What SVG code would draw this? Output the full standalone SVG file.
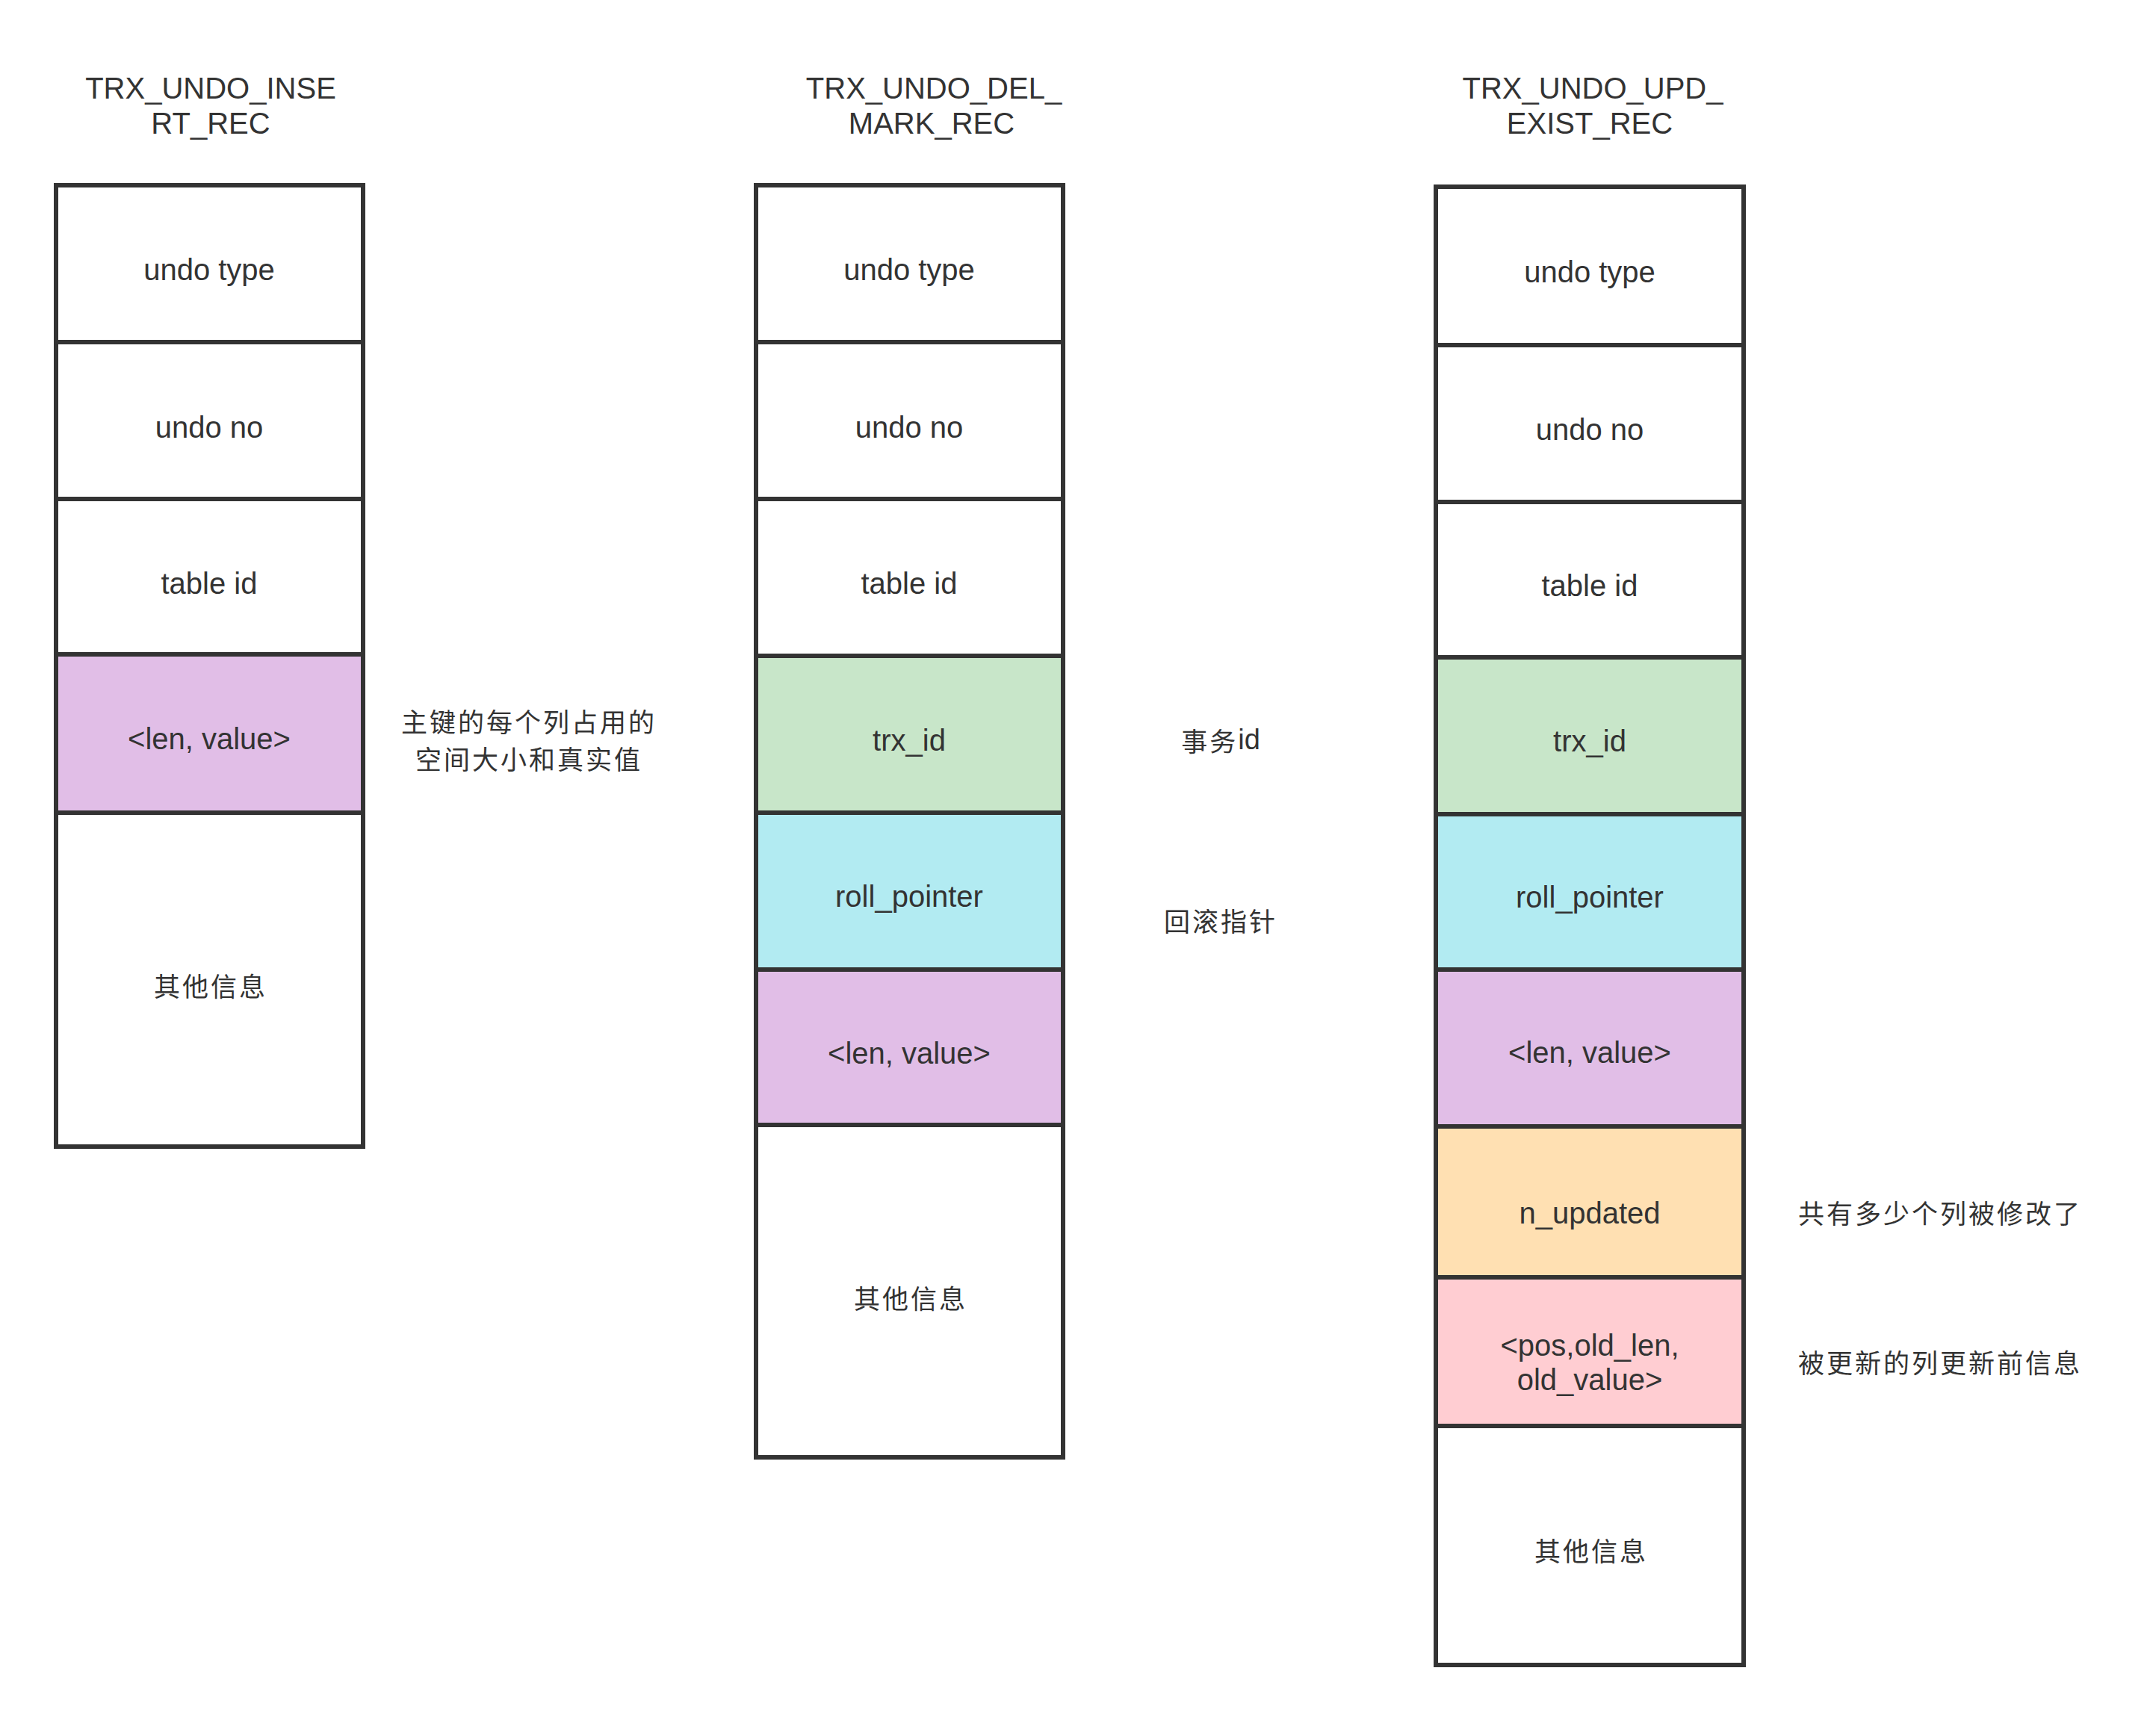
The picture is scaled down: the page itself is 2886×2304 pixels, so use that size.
<svg xmlns="http://www.w3.org/2000/svg" width="2886" height="2304" viewBox="0 0 2886 2304">
<style>
.c{stroke:#333;stroke-width:6;}
.w{fill:#ffffff;}
.lil{fill:#e1bee7;}
.grn{fill:#c8e6c9;}
.cyn{fill:#b2ebf2;}
.org{fill:#ffe0b2;}
.pnk{fill:#ffcdd2;}
.t{font-family:"Liberation Sans","Noto Sans",sans-serif;font-size:40px;fill:#333;text-anchor:middle;dominant-baseline:central;}
.h{font-family:"Liberation Sans","Noto Sans",sans-serif;font-size:40px;fill:#333;text-anchor:middle;}
.z{font-family:"Noto Sans CJK SC",sans-serif;font-size:35px;fill:#333;text-anchor:middle;dominant-baseline:central;letter-spacing:3px;}
.l{font-family:"Liberation Sans",sans-serif;letter-spacing:0;font-size:38px;}
</style>
<rect width="2886" height="2304" fill="#ffffff"/>

<g id="title1"><text class="h" x="282" y="132">TRX_UNDO_INSE</text><text class="h" x="282" y="179">RT_REC</text></g>
<g id="title2"><text class="h" x="1250" y="132">TRX_UNDO_DEL_</text><text class="h" x="1247" y="179">MARK_REC</text></g>
<g id="title3"><text class="h" x="2132" y="132">TRX_UNDO_UPD_</text><text class="h" x="2128" y="179">EXIST_REC</text></g>

<g id="col1">
<g id="c1-undo-type"><rect class="c w" x="75" y="248" width="411" height="210"/><text class="t" x="280" y="361">undo type</text></g>
<g id="c1-undo-no"><rect class="c w" x="75" y="458" width="411" height="210"/><text class="t" x="280" y="572">undo no</text></g>
<g id="c1-table-id"><rect class="c w" x="75" y="668" width="411" height="208"/><text class="t" x="280" y="781">table id</text></g>
<g id="c1-len-value"><rect class="c lil" x="75" y="876" width="411" height="212"/><text class="t" x="280" y="989">&lt;len, value&gt;</text></g>
<g id="c1-other"><rect class="c w" x="75" y="1088" width="411" height="447"/><text class="z" x="282" y="1318">其他信息</text></g>
</g>

<g id="col2">
<g id="c2-undo-type"><rect class="c w" x="1012" y="248" width="411" height="210"/><text class="t" x="1217" y="361">undo type</text></g>
<g id="c2-undo-no"><rect class="c w" x="1012" y="458" width="411" height="210"/><text class="t" x="1217" y="572">undo no</text></g>
<g id="c2-table-id"><rect class="c w" x="1012" y="668" width="411" height="210"/><text class="t" x="1217" y="781">table id</text></g>
<g id="c2-trx-id"><rect class="c grn" x="1012" y="878" width="411" height="210"/><text class="t" x="1217" y="991">trx_id</text></g>
<g id="c2-roll-pointer"><rect class="c cyn" x="1012" y="1088" width="411" height="210"/><text class="t" x="1217" y="1200">roll_pointer</text></g>
<g id="c2-len-value"><rect class="c lil" x="1012" y="1298" width="411" height="208"/><text class="t" x="1217" y="1410">&lt;len, value&gt;</text></g>
<g id="c2-other"><rect class="c w" x="1012" y="1506" width="411" height="445"/><text class="z" x="1219" y="1736">其他信息</text></g>
</g>

<g id="col3">
<g id="c3-undo-type"><rect class="c w" x="1922" y="250" width="412" height="212"/><text class="t" x="2128" y="364">undo type</text></g>
<g id="c3-undo-no"><rect class="c w" x="1922" y="462" width="412" height="210"/><text class="t" x="2128" y="575">undo no</text></g>
<g id="c3-table-id"><rect class="c w" x="1922" y="672" width="412" height="208"/><text class="t" x="2128" y="784">table id</text></g>
<g id="c3-trx-id"><rect class="c grn" x="1922" y="880" width="412" height="210"/><text class="t" x="2128" y="992">trx_id</text></g>
<g id="c3-roll-pointer"><rect class="c cyn" x="1922" y="1090" width="412" height="208"/><text class="t" x="2128" y="1201">roll_pointer</text></g>
<g id="c3-len-value"><rect class="c lil" x="1922" y="1298" width="412" height="210"/><text class="t" x="2128" y="1409">&lt;len, value&gt;</text></g>
<g id="c3-n-updated"><rect class="c org" x="1922" y="1508" width="412" height="202"/><text class="t" x="2128" y="1624">n_updated</text></g>
<g id="c3-pos-old"><rect class="c pnk" x="1922" y="1710" width="412" height="199"/><text class="t" x="2128" y="1801">&lt;pos,old_len,</text><text class="t" x="2128" y="1847">old_value&gt;</text></g>
<g id="c3-other"><rect class="c w" x="1922" y="1909" width="412" height="320"/><text class="z" x="2130" y="2074">其他信息</text></g>
</g>

<g id="annotations">
<text class="z" x="708" y="964">主键的每个列占用的</text>
<text class="z" x="708" y="1014">空间大小和真实值</text>
<text class="z" x="1634" y="990">事务<tspan class="l">id</tspan></text>
<text class="z" x="1634" y="1231">回滚指针</text>
<text class="z" x="2597" y="1622">共有多少个列被修改了</text>
<text class="z" x="2597" y="1822">被更新的列更新前信息</text>
</g>
</svg>
